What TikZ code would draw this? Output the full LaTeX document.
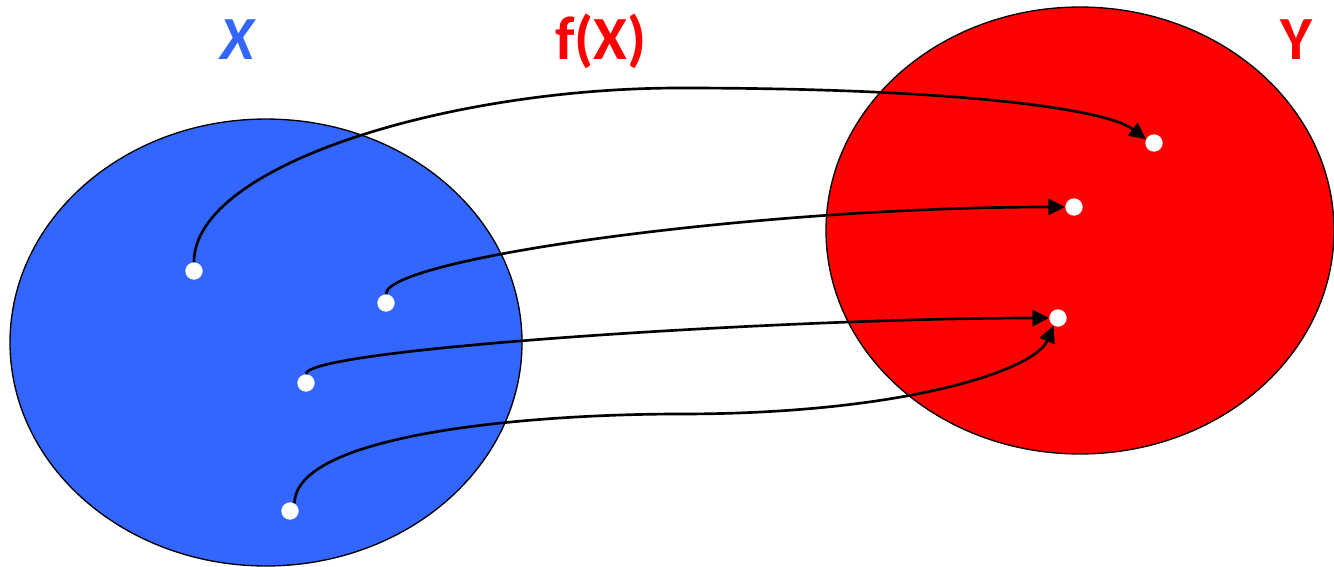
\documentclass[tikz,border=0pt]{standalone}
\usepackage{fontspec}
\setmainfont{Carlito}
\usetikzlibrary{arrows.meta}
\definecolor{setblue}{HTML}{3366FF}
\definecolor{setred}{HTML}{FF0000}
\begin{document}
\begin{tikzpicture}[x=0.75pt,y=-0.75pt,
  setshape/.style={draw=black,line width=1pt},
  dot/.style={circle,fill=white,inner sep=0pt,minimum size=13pt},
  maparrow/.style={line width=2pt,-{Triangle[length=12.5pt,width=12pt]}},
  setlabel/.style={anchor=base,font=\fontsize{46}{50}\selectfont\bfseries}]
\useasboundingbox (0,0) rectangle (1334,567);
% sets
\fill[setblue] (266,342.5) ellipse [x radius=192pt,y radius=167.6pt];
\draw[setshape] (266,342.5) ellipse [x radius=192pt,y radius=167.6pt];
\fill[setred] (1080,230.5) ellipse [x radius=190.5pt,y radius=167.6pt];
\draw[setshape] (1080,230.5) ellipse [x radius=190.5pt,y radius=167.6pt];
% labels
\node[setlabel,text=setblue,font=\fontsize{46}{50}\selectfont\bfseries\itshape] (lx) at (237,60) {X};
\node[setlabel,text=setred] (lf) at (601,60) {f(X)};
\node[setlabel,text=setred] (ly) at (1296,60) {Y};
% points
\node[dot] (a) at (194,271) {};
\node[dot] (b) at (386,303) {};
\node[dot] (c) at (306,383) {};
\node[dot] (d) at (290,511) {};
\node[dot] (p) at (1154,143) {};
\node[dot] (q) at (1074,207) {};
\node[dot] (r) at (1058,318) {};
% mappings
\draw[maparrow] (a.north) .. controls (194,165) and (450,88) .. (680,88)
  .. controls (950,88) and (1105,108) .. (p.155);
\draw[maparrow] (b.north) .. controls (386,258) and (760,207) .. (q.west);
\draw[maparrow] (c.north) .. controls (306,348) and (800,318) .. (r.west);
\draw[maparrow] (d.60) .. controls (296,432) and (540,414) .. (680,414)
  .. controls (905,414) and (1035,370) .. (r.-120);
\end{tikzpicture}
\end{document}
